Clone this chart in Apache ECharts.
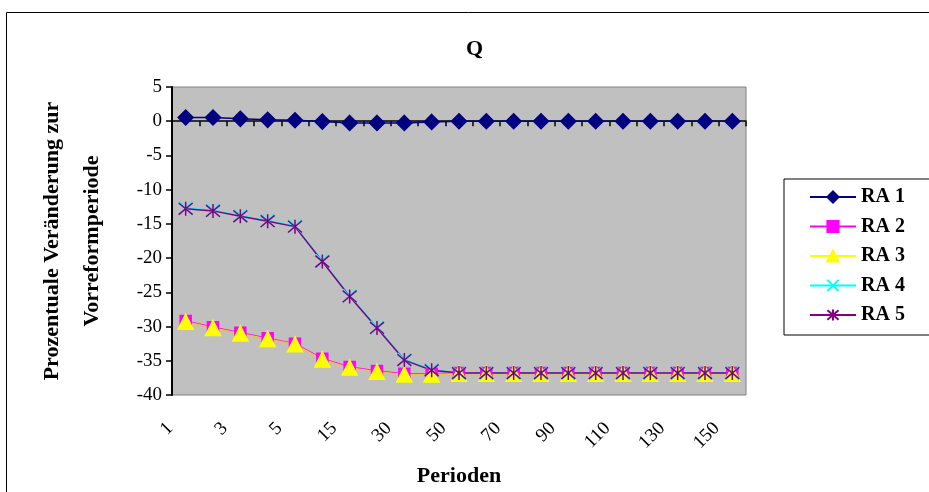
<!DOCTYPE html>
<html>
<head>
<meta charset="utf-8">
<script src="https://cdn.jsdelivr.net/npm/echarts@6/dist/echarts.min.js"></script>
<style>
  html, body { margin: 0; padding: 0; background: #fff; }
  #main { width: 929px; height: 492px; }
</style>
</head>
<body>
<div id="main"></div>
<script>
// Perioden (x categories)
var periods = ["1", "2", "3", "4", "5", "10", "15", "20", "30", "40", "50",
  "60", "70", "80", "90", "100", "110", "120", "130", "140", "150"];

// series values
var ra1 = [0.55, 0.55, 0.35, 0.2, 0.15, -0.05, -0.25, -0.25, -0.25, -0.1, 0,
  0, 0, 0, 0, 0, 0, 0, 0, 0, 0];
var ra2 = [-29.2, -30.1, -30.9, -31.7, -32.5, -34.7, -35.9, -36.5, -36.9, -36.9, -36.8,
  -36.8, -36.8, -36.8, -36.8, -36.8, -36.8, -36.8, -36.8, -36.8, -36.8];
var ra3 = [-29.3, -30.2, -31.0, -31.8, -32.6, -34.8, -36.0, -36.6, -37.0, -37.0, -36.9,
  -36.9, -36.9, -36.9, -36.9, -36.9, -36.9, -36.9, -36.9, -36.9, -36.9];
var ra4 = [-12.7, -13.0, -13.8, -14.5, -15.3, -20.4, -25.5, -30.1, -34.8, -36.3, -36.8,
  -36.8, -36.8, -36.8, -36.8, -36.8, -36.8, -36.8, -36.8, -36.8, -36.8];
var ra5 = [-12.8, -13.1, -13.9, -14.6, -15.4, -20.5, -25.6, -30.2, -34.9, -36.4, -36.8,
  -36.8, -36.8, -36.8, -36.8, -36.8, -36.8, -36.8, -36.8, -36.8, -36.8];

var serif = "'Liberation Serif', 'DejaVu Serif', serif";

var chart = echarts.init(document.getElementById("main"));

function line(name, data, color, symbol, size, lineColor) {
  return {
    name: name,
    type: "line",
    data: data,
    xAxisIndex: 0,
    symbol: symbol,
    symbolSize: size,
    lineStyle: { color: lineColor || color, width: 1.5 },
    itemStyle: { color: color, borderColor: color, borderWidth: 1.5 }
  };
}

var xShape = "path://M0,0L10,10M10,0L0,10";
var star = "path://M0,0L10,10M10,0L0,10M5,-1L5,11";

var option = {
  animation: false,
  backgroundColor: "#fff",
  graphic: [{
    type: "rect",
    left: 4, top: 10,
    shape: { width: 940, height: 500 },
    style: { fill: "none", stroke: "#000", lineWidth: 1 },
    z: -1
  }],
  title: {
    text: "Q",
    left: 461, top: 33,
    textStyle: { fontFamily: serif, fontSize: 22, fontWeight: "bold", color: "#000" }
  },
  legend: {
    orient: "vertical",
    left: 784, top: 179,
    itemWidth: 46, itemHeight: 14,
    itemGap: 9.5,
    padding: [8, 30, 10, 25],
    borderColor: "#000", borderWidth: 1,
    textStyle: { fontFamily: serif, fontSize: 20, lineHeight: 20, fontWeight: "bold", color: "#000" },
    data: ["RA 1", "RA 2", { name: "RA 3", lineStyle: { color: "#FFFF00" } }, "RA 4", "RA 5"]
  },
  grid: {
    left: 172, top: 87, right: 183, bottom: 94,
    show: true, backgroundColor: "#C0C0C0", borderColor: "#808080", borderWidth: 1
  },
  xAxis: [{
    type: "category",
    data: periods,
    boundaryGap: true,
    axisLine: { onZero: true, lineStyle: { color: "#000", width: 1.5 } },
    axisTick: { show: true, interval: 0, length: 5, lineStyle: { color: "#000", width: 1.5 } },
    axisLabel: { show: false }
  }, {
    type: "category",
    data: periods,
    position: "bottom",
    boundaryGap: true,
    axisLine: { show: false },
    axisTick: { show: false },
    axisLabel: {
      interval: 1, rotate: 45, margin: 15, padding: [0, 22, 0, 0],
      fontFamily: serif, fontSize: 19, color: "#000"
    },
    name: "Perioden",
    nameLocation: "middle",
    nameGap: 70,
    nameTextStyle: { fontFamily: serif, fontSize: 22, fontWeight: "bold", color: "#000" }
  }],
  yAxis: {
    type: "value",
    min: -40, max: 5, interval: 5,
    axisLine: { show: true, lineStyle: { color: "#000", width: 2 } },
    axisTick: { show: true, length: 6, lineStyle: { color: "#000", width: 1.5 } },
    splitLine: { show: false },
    axisLabel: { fontFamily: serif, fontSize: 19, color: "#000", margin: 10 },
    name: "Prozentuale Veränderung zur\nVorreformperiode",
    nameLocation: "middle",
    nameGap: 60,
    nameTextStyle: { fontFamily: serif, fontSize: 22, fontWeight: "bold", color: "#000", lineHeight: 40 }
  },
  series: [
    line("RA 1", ra1, "#000080", "diamond", 15),
    line("RA 2", ra2, "#FF00FF", "rect", 11),
    line("RA 3", ra3, "#FFFF00", "triangle", 15, "#F0C040"),
    line("RA 4", ra4, "#00FFFF", xShape, 13),
    line("RA 5", ra5, "#800080", star, 14)
  ]
};

chart.setOption(option);
</script>
</body>
</html>
